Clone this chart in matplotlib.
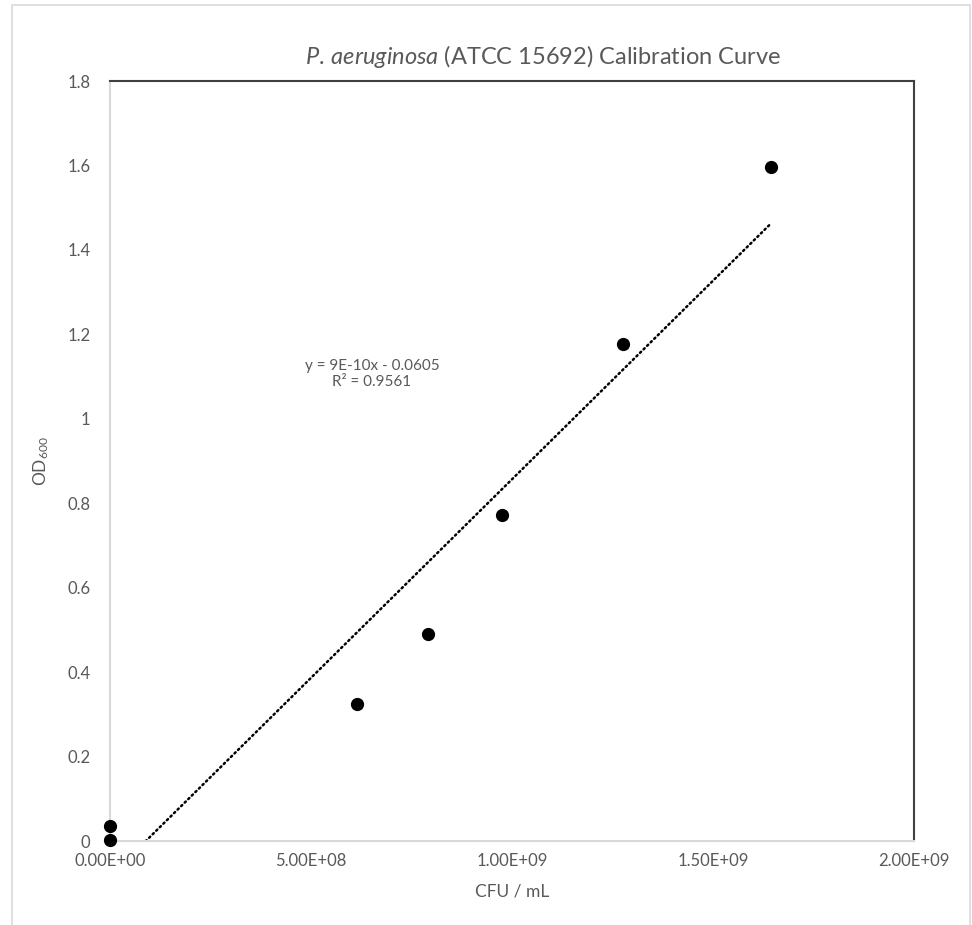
import numpy as np
import matplotlib
matplotlib.use("Agg")
import matplotlib.pyplot as plt
from matplotlib.ticker import FuncFormatter, MultipleLocator
from matplotlib.lines import Line2D

plt.rcParams['font.family'] = ['Lato', 'DejaVu Sans']
plt.rcParams['mathtext.fontset'] = 'custom'
plt.rcParams['mathtext.rm'] = 'Lato'
plt.rcParams['mathtext.it'] = 'Lato:italic'

# data
cfu = [0.0, 0.0, 6.14e8, 7.90e8, 9.74e8, 1.277e9, 1.645e9]
od600 = [0.035, 0.003, 0.324, 0.490, 0.771, 1.178, 1.597]
eq_text = "y = 9E-10x - 0.0605\nR\u00b2 = 0.9561"

grey_txt = "#595959"

fig = plt.figure(figsize=(9.72, 9.25), dpi=100)
ax = fig.add_axes([110/972, 1 - 841/925, (914 - 110)/972, (841 - 81)/925])

# linear trendline (dotted), clipped at y = 0 by the axes
slope, icpt = np.polyfit(cfu, od600, 1)
xs = np.array([0.0, max(cfu)])
ax.plot(xs, slope * xs + icpt, color="black", lw=1.8, ls=(0, (0.6, 1.4)),
        dash_capstyle="round", zorder=2)

ax.plot(cfu, od600, "o", color="black", ms=8.5, zorder=3, clip_on=False)

ax.set_xlim(0, 2e9)
ax.set_ylim(0, 1.8)
ax.xaxis.set_major_locator(MultipleLocator(5e8))
ax.yaxis.set_major_locator(MultipleLocator(0.2))
ax.xaxis.set_major_formatter(FuncFormatter(lambda v, p: f"{v:.2E}"))
ax.yaxis.set_major_formatter(FuncFormatter(lambda v, p: f"{v:g}"))
ax.tick_params(length=0, labelsize=12, labelcolor=grey_txt)
ax.tick_params(axis="x", pad=9)
ax.tick_params(axis="y", pad=14)

for s in ["left", "bottom"]:
    ax.spines[s].set_color("#d9d9d9")
    ax.spines[s].set_linewidth(1.5)
for s in ["top", "right"]:
    ax.spines[s].set_color("#404040")
    ax.spines[s].set_linewidth(1.5)

ax.set_xlabel("CFU / mL", fontsize=12.5, color=grey_txt, labelpad=10)
ax.set_ylabel(r"OD$_{600}$", fontsize=12.5, color=grey_txt, labelpad=12)

fig.text(543/972, 1 - 57/925,
         r"$\it{P.\,aeruginosa}$ (ATCC 15692) Calibration Curve",
         ha="center", va="center", fontsize=17, color=grey_txt)

ax.text(372/972, 1 - 374/925, eq_text, transform=fig.transFigure,
        ha="center", va="center", fontsize=11, color=grey_txt,
        linespacing=1.25)

# outer chart border (bottom edge cropped off)
bx = [12/972, 12/972, 970/972, 970/972]
by = [0.0, 1 - 5/925, 1 - 5/925, 0.0]
fig.add_artist(Line2D(bx, by, transform=fig.transFigure, color="#d9d9d9", lw=1.2))

fig.savefig("out.png", dpi=100, facecolor="white")
